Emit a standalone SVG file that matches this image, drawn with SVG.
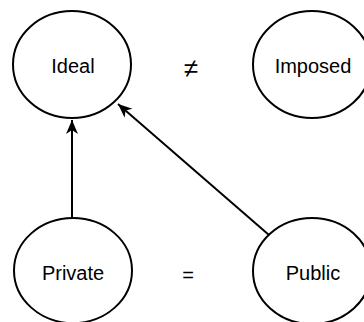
<svg xmlns="http://www.w3.org/2000/svg" width="364" height="322" viewBox="0 0 364 322">
<style>
.node{fill:#fff;stroke:#000;stroke-width:2}
.lbl{font-family:"Liberation Sans",Arial,sans-serif;font-size:20px;fill:#000;text-anchor:middle}
.edge{stroke:#000;stroke-width:2;fill:none}
</style>
<defs>
<marker id="arr" markerUnits="userSpaceOnUse" markerWidth="16" markerHeight="14" viewBox="-15 -7 16 14" refX="0" refY="0" orient="auto">
<path d="M0,0 L-14,-6 L-10,0 L-14,6 Z" fill="#000"/>
</marker>
</defs>
<rect width="364" height="322" fill="#fff"/>
<g id="connectors">
<line class="edge" x1="72" y1="218" x2="72" y2="120" marker-end="url(#arr)"/>
<line class="edge" x1="269" y1="235" x2="118" y2="104" marker-end="url(#arr)"/>
</g>
<g id="ideal">
<ellipse class="node" cx="72" cy="64.5" rx="59" ry="53.5"/>
<text class="lbl" x="73" y="73">Ideal</text>
</g>
<g id="imposed">
<ellipse class="node" cx="312" cy="64.5" rx="59" ry="53.5"/>
<text class="lbl" x="313" y="73">Imposed</text>
</g>
<g id="private">
<ellipse class="node" cx="73" cy="270.5" rx="59" ry="52.5"/>
<text class="lbl" x="73" y="280">Private</text>
</g>
<g id="public">
<ellipse class="node" cx="312" cy="271" rx="59" ry="53"/>
<text class="lbl" x="313" y="280">Public</text>
</g>
<g id="symbols">
<text class="lbl" x="191" y="77" style="font-size:26px">≠</text>
<text class="lbl" x="188" y="282">=</text>
</g>
</svg>
